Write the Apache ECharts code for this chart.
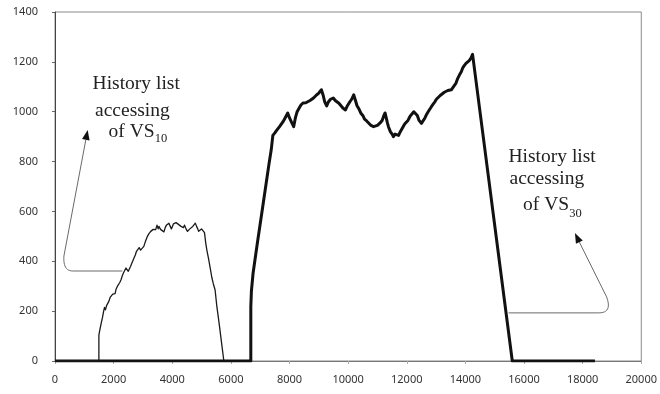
<!DOCTYPE html>
<html>
<head>
<meta charset="utf-8">
<title>History list accessing</title>
<script src="https://cdn.jsdelivr.net/npm/echarts@6/dist/echarts.min.js"></script>
<style>
  html, body { margin: 0; padding: 0; background: #fff; }
  #chart { width: 660px; height: 394px; }
</style>
</head>
<body>
<div id="chart"></div>
<script>
// Axis ticks
const xTicks = [0, 2000, 4000, 6000, 8000, 10000, 12000, 14000, 16000, 18000, 20000];
const yTicks = [0, 200, 400, 600, 800, 1000, 1200, 1400];

// History list accessing of VS10 (thin trace): [time, value]
const vs10 = [
  [0,0],[1497,0],[1497,104],[1530,125],[1577,152],[1620,175],[1660,200],[1689,215],[1720,205],
  [1760,222],[1801,228],[1840,240],[1880,255],[1920,250],[1970,268],[2010,275],[2050,270],
  [2083,288],[2130,300],[2170,295],[2210,315],[2252,326],[2290,340],[2330,352],[2370,345],
  [2421,373],[2460,365],[2500,360],[2534,352],[2580,380],[2620,392],[2660,400],[2703,415],
  [2740,425],[2780,440],[2830,448],[2872,455],[2920,445],[2960,440],[2984,438],[3030,460],
  [3080,478],[3120,490],[3153,500],[3200,510],[3240,505],[3266,520],[3300,515],[3350,528],
  [3400,522],[3435,527],[3480,545],[3520,530],[3547,540],[3600,528],[3650,525],[3716,518],
  [3760,535],[3800,545],[3840,538],[3885,553],[3930,545],[3970,530],[3997,534],[4040,550],
  [4090,545],[4130,555],[4166,560],[4210,548],[4260,552],[4300,540],[4335,540],[4380,535],
  [4420,545],[4470,530],[4520,520],[4560,520],[4600,530],[4650,535],[4700,540],[4750,548],
  [4787,553],[4830,540],[4870,530],[4899,520],[4950,525],[5000,530],[5040,535],[5068,533],
  [5100,515],[5140,475],[5180,445],[5236,412],[5300,370],[5350,335],[5400,310],[5462,285],
  [5520,220],[5600,150],[5680,75],[5760,0]
];

// History list accessing of VS30 (thick trace): [time, value]
const vs30 = [
  [0,0],[6680,0],[6680,218],[6700,280],[6757,352],[6900,470],[7100,630],[7300,790],[7375,846],
  [7432,905],[7500,915],[7560,925],[7600,920],[7660,940],[7714,945],[7780,960],[7850,975],
  [7939,995],[8000,975],[8060,960],[8142,940],[8200,975],[8260,1000],[8330,1015],[8390,1027],
  [8460,1035],[8520,1030],[8558,1036],[8620,1030],[8700,1045],[8750,1040],[8820,1055],[8880,1060],
  [8930,1068],[9000,1075],[9088,1088],[9150,1065],[9200,1040],[9268,1023],[9330,1040],[9400,1050],
  [9493,1055],[9560,1045],[9620,1040],[9685,1034],[9750,1025],[9820,1015],[9910,1007],[9980,1025],
  [10060,1040],[10120,1050],[10190,1068],[10250,1045],[10300,1025],[10360,1013],[10430,995],
  [10500,985],[10560,970],[10640,962],[10700,955],[10780,945],[10867,940],[10930,935],[11000,945],
  [11090,955],[11160,965],[11220,985],[11260,995],[11300,975],[11340,955],[11375,940],[11440,920],
  [11500,910],[11544,900],[11600,910],[11660,915],[11720,905],[11780,920],[11824,927],[11900,945],
  [11960,955],[12040,965],[12105,980],[12170,990],[12240,1000],[12308,1008],[12360,985],[12420,965],
  [12500,953],[12560,960],[12620,975],[12680,990],[12730,1000],[12780,1008],[12840,1020],[12900,1030],
  [12960,1040],[13010,1050],[13064,1055],[13140,1065],[13200,1070],[13280,1078],[13345,1080],
  [13400,1085],[13460,1090],[13520,1088],[13570,1095],[13620,1105],[13680,1115],[13740,1134],
  [13800,1148],[13860,1160],[13908,1175],[13960,1185],[14020,1194],[14077,1194],[14130,1205],
  [14190,1215],[14245,1230],[15600,0],[18420,0]
];

// Callout text and leader arrows, anchored in data coordinates
const noteVS10 = { lines: ['History list', 'accessing'], sub: '10' };
const noteVS30 = { lines: ['History list', 'accessing'], sub: '30' };
const arrowVS10 = { tip: [1115, 927], bend: [304, 421], ctrl: [270, 361], corner: [608, 361], tail: [2297, 361] };
const arrowVS30 = { tip: [17736, 513], bend: [18818, 257], ctrl: [19020, 193], corner: [18547, 193], tail: [15473, 193] };

const chart = echarts.init(document.getElementById('chart'), null, { renderer: 'canvas' });

const labelFont = '"Noto Sans", sans-serif';
const noteFont = '"Liberation Serif", "Times New Roman", serif';

chart.setOption({
  animation: false,
  backgroundColor: '#fff',
  grid: { left: 55, right: 13, top: 12, bottom: 33, show: true, borderColor: '#8a8a8a', borderWidth: 1 },
  xAxis: {
    type: 'value', min: xTicks[0], max: xTicks[xTicks.length - 1], interval: xTicks[1] - xTicks[0],
    axisLine: { show: true, lineStyle: { color: '#777', width: 1 } },
    axisTick: { show: true, length: 3, lineStyle: { color: '#aaa' } },
    splitLine: { show: false },
    axisLabel: { color: '#333', fontFamily: labelFont, fontSize: 11, margin: 13,
      formatter: function (v) { return String(v); } }
  },
  yAxis: {
    type: 'value', min: yTicks[0], max: yTicks[yTicks.length - 1], interval: yTicks[1] - yTicks[0],
    axisLine: { show: true, lineStyle: { color: '#444', width: 1 } },
    axisTick: { show: true, length: 3, lineStyle: { color: '#666' } },
    splitLine: { show: false },
    axisLabel: { color: '#333', fontFamily: labelFont, fontSize: 11, margin: 17,
      formatter: function (v) { return String(v); } }
  },
  series: [
    { name: 'VS30', type: 'line', data: vs30, showSymbol: false, smooth: false,
      lineStyle: { color: '#111', width: 3, join: 'round' }, z: 3 },
    { name: 'VS10', type: 'line', data: vs10, showSymbol: false, smooth: false,
      lineStyle: { color: '#1a1a1a', width: 1.3, join: 'round' }, z: 4 }
  ]
});

function px(p) { return chart.convertToPixel({ gridIndex: 0 }, p); }

// Leader line: straight tail, rounded elbow (quadratic), straight run to an arrowhead
function arrowGraphics(a) {
  const tip = px(a.tip), bend = px(a.bend), ctrl = px(a.ctrl), corner = px(a.corner), tail = px(a.tail);
  const pts = [tail, corner];
  for (let i = 1; i <= 12; i++) {
    const t = i / 12, u = 1 - t;
    pts.push([
      u * u * corner[0] + 2 * u * t * ctrl[0] + t * t * bend[0],
      u * u * corner[1] + 2 * u * t * ctrl[1] + t * t * bend[1]
    ]);
  }
  const dx = tip[0] - bend[0], dy = tip[1] - bend[1];
  const len = Math.sqrt(dx * dx + dy * dy);
  const ux = dx / len, uy = dy / len;
  const head = 10, half = 3.8;
  const bx = tip[0] - ux * head, by = tip[1] - uy * head;
  pts.push([bx, by]);
  return [
    { type: 'polyline', shape: { points: pts }, style: { fill: null, stroke: '#6a6a6a', lineWidth: 1 }, z: 10 },
    { type: 'polygon', shape: { points: [tip, [bx - uy * half, by + ux * half], [bx + uy * half, by - ux * half]] },
      style: { fill: '#111' }, z: 11 }
  ];
}

function noteGraphics(note, anchors) {
  const els = [];
  note.lines.forEach(function (t, i) {
    const p = px(anchors.lines[i]);
    els.push({ type: 'text', x: p[0], y: p[1], z: 12,
      style: { text: t, font: '19.5px ' + noteFont, fill: '#222', align: 'center', verticalAlign: 'middle' } });
  });
  const m = px(anchors.main);
  els.push({ type: 'text', x: m[0], y: m[1], z: 12,
    style: { text: 'of VS', font: '19.5px ' + noteFont, fill: '#222', align: 'right', verticalAlign: 'middle' } });
  const s = px(anchors.sub);
  els.push({ type: 'text', x: s[0], y: s[1], z: 12,
    style: { text: note.sub, font: '12.5px ' + noteFont, fill: '#222', align: 'left', verticalAlign: 'middle' } });
  return els;
}

const graphics = []
  .concat(arrowGraphics(arrowVS10))
  .concat(arrowGraphics(arrowVS30))
  .concat(noteGraphics(noteVS10, { lines: [[2770, 1113], [2640, 1005]], main: [3400, 920], sub: [3400, 890] }))
  .concat(noteGraphics(noteVS30, { lines: [[16959, 820], [16780, 732]], main: [17540, 628], sub: [17540, 590] }));

chart.setOption({ graphic: graphics });
</script>
</body>
</html>
